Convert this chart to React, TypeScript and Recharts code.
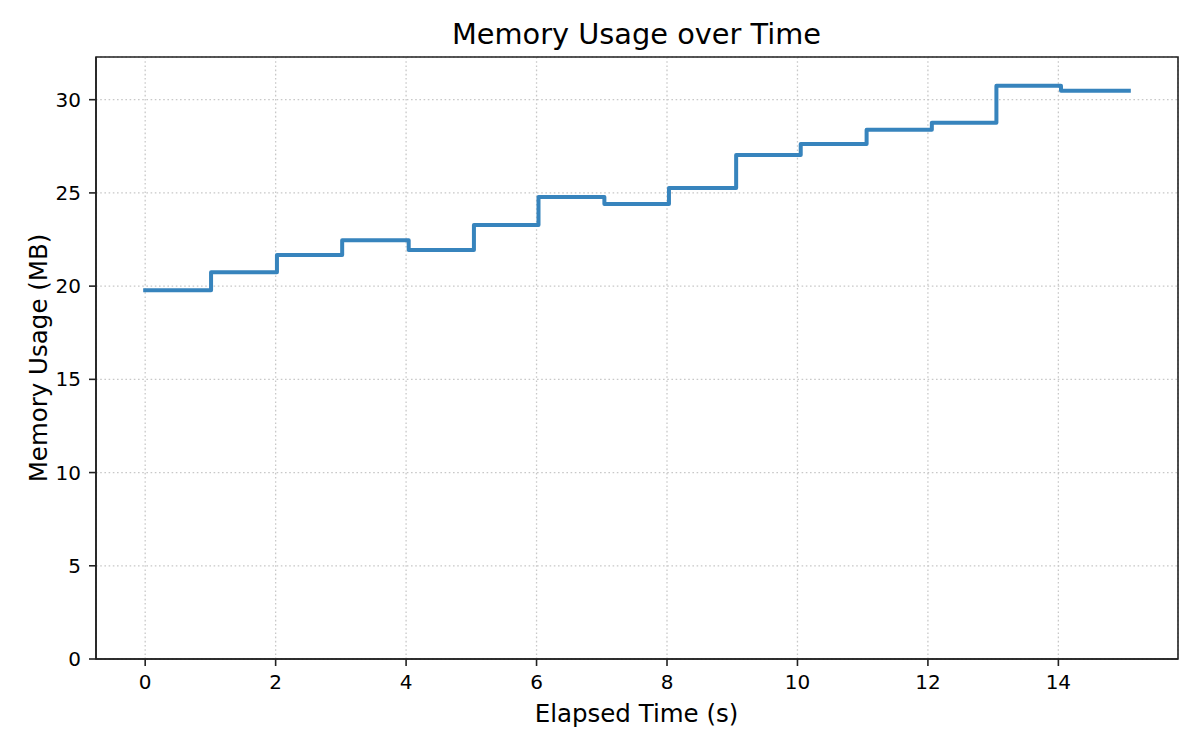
import React from "react";
import {
  LineChart,
  Line,
  XAxis,
  YAxis,
  CartesianGrid,
  ReferenceArea,
} from "recharts";

// elapsed seconds and memory readings (MB)
const elapsedTime = [0, 1.01, 2.02, 3.02, 4.04, 5.04, 6.03, 7.04, 8.03, 9.06, 10.05, 11.06, 12.06, 13.05, 14.04, 15.08];
const memoryMb = [19.78, 20.75, 21.67, 22.46, 21.94, 23.28, 24.78, 24.41, 25.27, 27.03, 27.63, 28.39, 28.76, 30.75, 30.48, 30.48];

const xTicks = [0, 2, 4, 6, 8, 10, 12, 14];
const yTicks = [0, 5, 10, 15, 20, 25, 30];

const xDomain: [number, number] = [-0.754, 15.834];
const yDomain: [number, number] = [0, 32.29];

const data = elapsedTime.map((t, i) => ({ t, mem: memoryMb[i] }));

const FONT = "'DejaVu Sans', sans-serif";
const AXIS = "#222222";

const W = 1200;
const H = 750;

export default function App() {
  const tickStyle = { fill: "#000", fontSize: 20, fontFamily: FONT };
  return (
    <div style={{ position: "absolute", left: 0, top: 0, width: W, height: H, background: "#fff" }}>
      <LineChart
        width={W}
        height={H}
        data={data}
        margin={{ top: 57, right: 22, left: 16, bottom: 51 }}
      >
        <CartesianGrid
          stroke="#c8c8c8"
          strokeWidth={1.3}
          strokeDasharray="1.6 2.6"
        />
        <XAxis
          type="number"
          dataKey="t"
          domain={xDomain}
          ticks={xTicks}
          allowDataOverflow
          height={40}
          tickSize={7}
          tickMargin={9}
          tick={tickStyle}
          stroke={AXIS}
          strokeWidth={1.6}
        />
        <YAxis
          type="number"
          domain={yDomain}
          ticks={yTicks}
          allowDataOverflow
          width={80}
          tickSize={7}
          tickMargin={8}
          tick={tickStyle}
          stroke={AXIS}
          strokeWidth={1.6}
        />
        <ReferenceArea
          x1={xDomain[0]}
          x2={xDomain[1]}
          y1={yDomain[0]}
          y2={yDomain[1]}
          fill="none"
          fillOpacity={0}
          stroke={AXIS}
          strokeWidth={1.6}
        />
        <Line
          type="stepAfter"
          dataKey="mem"
          stroke="#3784bd"
          strokeWidth={4}
          strokeLinecap="square"
          strokeLinejoin="round"
          dot={false}
          activeDot={false}
          isAnimationActive={false}
        />
      </LineChart>
      <svg
        width={W}
        height={H}
        style={{ position: "absolute", left: 0, top: 0, pointerEvents: "none" }}
      >
        <text x={636.5} y={44} textAnchor="middle" fontFamily={FONT} fontSize={28.8} fill="#000">
          Memory Usage over Time
        </text>
        <text x={636.5} y={722} textAnchor="middle" fontFamily={FONT} fontSize={24.5} fill="#000">
          Elapsed Time (s)
        </text>
        <text
          transform="translate(47,358) rotate(-90)"
          textAnchor="middle"
          fontFamily={FONT}
          fontSize={24.5}
          fill="#000"
        >
          Memory Usage (MB)
        </text>
      </svg>
    </div>
  );
}
